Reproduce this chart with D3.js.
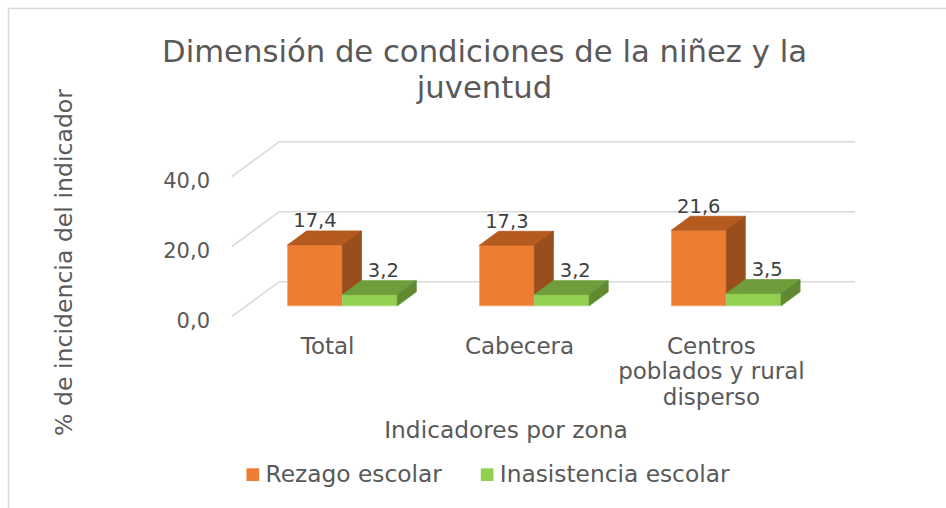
<!DOCTYPE html>
<html>
<head>
<meta charset="utf-8">
<script src="https://cdnjs.cloudflare.com/ajax/libs/d3/7.8.5/d3.min.js"></script>
<style>
  html, body { margin: 0; padding: 0; background: #fff; }
  svg { display: block; font-family: "DejaVu Sans", sans-serif; }
</style>
</head>
<body>
<svg id="chart" width="946" height="508"></svg>
<script>
// data
const categories = ["Total", "Cabecera", "Centros poblados y rural disperso"];
const seriesNames = ["Rezago escolar", "Inasistencia escolar"];
const rezago = [17.4, 17.3, 21.6];
const inasistencia = [3.2, 3.2, 3.5];
const yTicks = [0, 20, 40];
const titleLines = ["Dimensión de condiciones de la niñez y la", "juventud"];
const yTitle = "% de incidencia del indicador";
const xTitle = "Indicadores por zona";

// colours per series: front, top, side
const palette = {
    "Rezago escolar": { front: "#ED7D31", top: "#B55B20", side: "#9A4E1C", edge: "#F3A772" },
    "Inasistencia escolar": { front: "#92D050", top: "#6F9D3B", side: "#5F8A31", edge: "#B5E08A" }
};
const textColor = "#595959";
const gridColor = "#D9D9D9";

const svg = d3.select("#chart");

// chart frame (continues past right and bottom edge)
svg.append("rect")
    .attr("x", 8.5).attr("y", 8.5)
    .attr("width", 960).attr("height", 520)
    .attr("fill", "#fff")
    .attr("stroke", gridColor)
    .attr("stroke-width", 1.5);

// oblique 3d projection: front floor edge + depth vector
var floorLeft = 231.7, floorRight = 807.4;
var depthX = 47.6, depthY = -35;

const x0 = d3.scaleBand()
    .domain(categories)
    .range([floorLeft, floorRight])
    .paddingInner(1.5 / 3.5)
    .paddingOuter(0.75 / 3.5);

const x1 = d3.scaleBand()
    .domain(seriesNames)
    .range([0, x0.bandwidth()]);

const y = d3.scaleLinear()
    .domain([0, 40])
    .range([316.7, 176.7]);

// bar depth as fraction of the floor depth
const zBar = [0.31, 0.71];

function proj(x, v, z) {
    return [x + z * depthX, y(v) + z * depthY];
}

const fmt = d3.formatLocale({ decimal: ",", thousands: ".", grouping: [3], currency: ["$", ""] }).format(".1f");

// gridlines: side wall + back wall
const line = d3.line();
svg.append("g")
    .selectAll("path")
    .data(yTicks)
    .enter()
    .append("path")
    .attr("d", function (t) {
        return line([proj(floorLeft, t, 0), proj(floorLeft, t, 1), proj(floorRight, t, 1)]);
    })
    .attr("fill", "none")
    .attr("stroke", gridColor)
    .attr("stroke-width", 1.6);

// value axis labels
const yAxis = svg.append("g")
    .attr("transform", "translate(213,0)")
    .call(d3.axisLeft(y).tickValues(yTicks).tickFormat(fmt).tickSize(0).tickPadding(3));
yAxis.select(".domain").remove();
yAxis.selectAll("text")
    .attr("font-family", "DejaVu Sans, sans-serif")
    .attr("font-size", 21)
    .attr("fill", textColor)
    .attr("dy", "0.5em");

// bars
const rows = [];
categories.forEach(function (c, i) {
    rows.push({ cat: c, series: seriesNames[0], value: rezago[i] });
    rows.push({ cat: c, series: seriesNames[1], value: inasistencia[i] });
});

function faces(d) {
    var xl = x0(d.cat) + x1(d.series);
    var xr = xl + x1.bandwidth();
    var z0 = zBar[0], z1 = zBar[1];
    return [
        { kind: "front", pts: [proj(xl, 0, z0), proj(xr, 0, z0), proj(xr, d.value, z0), proj(xl, d.value, z0)] },
        { kind: "top", pts: [proj(xl, d.value, z0), proj(xr, d.value, z0), proj(xr, d.value, z1), proj(xl, d.value, z1)] },
        { kind: "side", pts: [proj(xr, 0, z0), proj(xr, 0, z1), proj(xr, d.value, z1), proj(xr, d.value, z0)] }
    ];
}

const bars = svg.append("g")
    .selectAll("g")
    .data(rows)
    .enter()
    .append("g");

bars.selectAll("path")
    .data(function (d) { return faces(d).map(function (f) { f.series = d.series; return f; }); })
    .enter()
    .append("path")
    .attr("d", function (f) { return line(f.pts) + "Z"; })
    .attr("fill", function (f) { return palette[f.series][f.kind]; })
    .attr("stroke", function (f) { return f.kind === "front" ? palette[f.series].edge : palette[f.series][f.kind]; })
    .attr("stroke-width", 0.8)
    .attr("stroke-linejoin", "round");

// data labels above the bars
svg.append("g")
    .selectAll("text")
    .data(rows)
    .enter()
    .append("text")
    .attr("x", function (d) {
        var xl = x0(d.cat) + x1(d.series);
        var w = x1.bandwidth();
        // orange labels sit over the front face, green ones over the top face
        return d.series === seriesNames[0] ? proj(xl + w / 2, d.value, zBar[0])[0] : proj(xl + w / 2, d.value, 0.5 * (zBar[0] + zBar[1]))[0] + 4;
    })
    .attr("y", function (d) { return proj(0, d.value, zBar[1])[1] - 3.5; })
    .attr("text-anchor", "middle")
    .attr("font-size", 19.5)
    .attr("fill", "#404040")
    .text(function (d) { return fmt(d.value); });

// category labels along front floor edge
const xAxis = svg.append("g")
    .attr("transform", "translate(0,316.7)")
    .call(d3.axisBottom(x0.copy().paddingInner(0).paddingOuter(0)).tickSize(0).tickPadding(0));
xAxis.select(".domain").remove();
xAxis.selectAll("text")
    .attr("font-family", "DejaVu Sans, sans-serif")
    .attr("font-size", 23)
    .attr("fill", textColor)
    .attr("y", 0)
    .attr("dy", null)
    .each(function (c) {
        // wrap long names into lines of at most ~195px
        var t = d3.select(this);
        var words = c.split(" ");
        t.text(null);
        var lines = [], cur = [];
        var probe = t.append("tspan");
        words.forEach(function (w) {
            var test = cur.concat([w]).join(" ");
            probe.text(test);
            if (cur.length && probe.node().getComputedTextLength() > 195) {
                lines.push(cur.join(" "));
                cur = [w];
            } else {
                cur.push(w);
            }
        });
        lines.push(cur.join(" "));
        probe.remove();
        lines.forEach(function (l, i) {
            t.append("tspan").attr("x", 0).attr("y", 37 + i * 25.5).text(l);
        });
    });

// title
svg.append("text")
    .attr("x", 484.5)
    .attr("text-anchor", "middle")
    .attr("font-size", 30.7)
    .attr("fill", textColor)
    .selectAll("tspan")
    .data(titleLines)
    .enter()
    .append("tspan")
    .attr("x", 484.5)
    .attr("y", function (d, i) { return 61.7 + i * 36; })
    .text(function (d) { return d; });

// axis titles
svg.append("text")
    .attr("transform", "translate(72,262.5) rotate(-90)")
    .attr("text-anchor", "middle")
    .attr("font-size", 23.6)
    .attr("fill", textColor)
    .text(yTitle);

svg.append("text")
    .attr("x", 506)
    .attr("y", 438.3)
    .attr("text-anchor", "middle")
    .attr("font-size", 23.3)
    .attr("fill", textColor)
    .text(xTitle);

// legend, centred under the plot
const legend = svg.append("g");
const items = legend.selectAll("g")
    .data(seriesNames)
    .enter()
    .append("g");
items.append("rect")
    .attr("width", 12.7).attr("height", 12.7)
    .attr("y", 468.3)
    .attr("fill", function (d) { return palette[d].front; });
items.append("text")
    .attr("x", 19)
    .attr("y", 481.7)
    .attr("font-size", 23.3)
    .attr("fill", textColor)
    .text(function (d) { return d; });

var cursor = 0, offsets = [];
items.each(function () {
    offsets.push(cursor);
    cursor += 19 + d3.select(this).select("text").node().getComputedTextLength() + 39;
});
var total = cursor - 39;
var start = 488 - total / 2;
items.attr("transform", function (d, i) { return "translate(" + (start + offsets[i]) + ",0)"; });
</script>
</body>
</html>
